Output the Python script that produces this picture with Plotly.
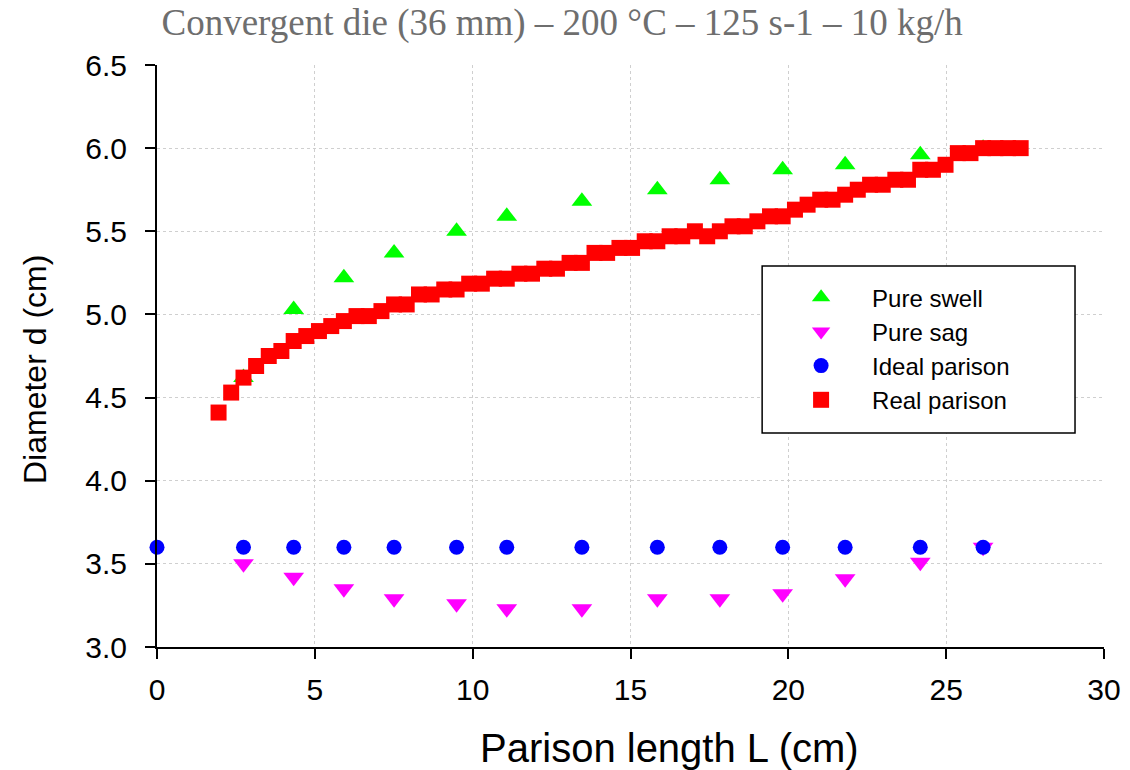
import plotly.graph_objects as go

# ---- data ----
real_L = [1.95, 2.35, 2.74, 3.14, 3.54, 3.94, 4.33, 4.73, 5.13, 5.52,
          5.92, 6.32, 6.71, 7.11, 7.51, 7.91, 8.30, 8.70, 9.10, 9.49,
          9.89, 10.29, 10.68, 11.08, 11.48, 11.88, 12.27, 12.67, 13.07, 13.46,
          13.86, 14.26, 14.65, 15.05, 15.45, 15.85, 16.24, 16.64, 17.04, 17.43,
          17.83, 18.23, 18.62, 19.02, 19.42, 19.82, 20.21, 20.61, 21.01, 21.40,
          21.80, 22.20, 22.59, 22.99, 23.39, 23.79, 24.18, 24.58, 24.98, 25.37,
          25.77, 26.17, 26.56, 26.96, 27.36]
real_d = [4.41, 4.53, 4.62, 4.69, 4.75, 4.78, 4.84, 4.87, 4.90, 4.93,
          4.96, 4.99, 4.99, 5.02, 5.06, 5.06, 5.12, 5.12, 5.15, 5.15,
          5.185, 5.185, 5.215, 5.215, 5.245, 5.245, 5.275, 5.275, 5.31, 5.31,
          5.37, 5.37, 5.40, 5.40, 5.44, 5.44, 5.47, 5.47, 5.50, 5.47,
          5.50, 5.53, 5.53, 5.56, 5.59, 5.59, 5.63, 5.66, 5.69, 5.69,
          5.72, 5.75, 5.78, 5.78, 5.81, 5.81, 5.87, 5.87, 5.90, 5.97,
          5.97, 6.00, 6.00, 6.00, 6.00]

swell_L = [2.74, 4.33, 5.92, 7.51, 9.49, 11.08, 13.46, 15.85, 17.83, 19.82, 21.80, 24.18, 26.17]
swell_d = [4.62, 5.03, 5.22, 5.37, 5.50, 5.59, 5.68, 5.75, 5.81, 5.87, 5.90, 5.96, 6.00]

sag_L = [2.74, 4.33, 5.92, 7.51, 9.49, 11.08, 13.46, 15.85, 17.83, 19.82, 21.80, 24.18, 26.17]
sag_d = [3.50, 3.42, 3.35, 3.29, 3.26, 3.23, 3.23, 3.29, 3.29, 3.32, 3.41, 3.51, 3.60]

ideal_L = [0.0, 2.74, 4.33, 5.92, 7.51, 9.49, 11.08, 13.46, 15.85, 17.83, 19.82, 21.80, 24.18, 26.17]
ideal_d = [3.60, 3.60, 3.60, 3.60, 3.60, 3.60, 3.60, 3.60, 3.60, 3.60, 3.60, 3.60, 3.60, 3.60]

x_ticks = [0, 5, 10, 15, 20, 25, 30]
y_ticks = [3.0, 3.5, 4.0, 4.5, 5.0, 5.5, 6.0, 6.5]
y_tick_text = ["3.0", "3.5", "4.0", "4.5", "5.0", "5.5", "6.0", "6.5"]

title_text = "Convergent die (36 mm) \u2013 200 \u00b0C \u2013 125 s-1 \u2013 10 kg/h"
x_title = "Parison length L (cm)"
y_title = "Diameter d (cm)"

# ---- figure ----
fig = go.Figure()
fig.add_trace(go.Scatter(x=swell_L, y=swell_d, mode="markers", name="Pure swell",
                         marker=dict(symbol="triangle-up", size=18, color="#00ff00"),
                         cliponaxis=False))
fig.add_trace(go.Scatter(x=sag_L, y=sag_d, mode="markers", name="Pure sag",
                         marker=dict(symbol="triangle-down", size=18, color="#ff00ff"),
                         cliponaxis=False))
fig.add_trace(go.Scatter(x=ideal_L, y=ideal_d, mode="markers", name="Ideal parison",
                         marker=dict(symbol="circle", size=15, color="#0000ff"),
                         cliponaxis=False))
fig.add_trace(go.Scatter(x=real_L, y=real_d, mode="markers", name="Real parison",
                         marker=dict(symbol="square", size=16, color="#ff0000"),
                         cliponaxis=False))

axis_common = dict(
    showline=True, linecolor="black", linewidth=2,
    ticks="outside", ticklen=10, tickwidth=1.5, tickcolor="black",
    showgrid=True, gridcolor="#cfcfcf", gridwidth=1, griddash="dot",
    zeroline=False, mirror=False, automargin=False,
    tickfont=dict(family="Arial", size=30, color="black"),
)

fig.update_xaxes(range=[0, 30], tickvals=x_ticks, ticklabelstandoff=5, **axis_common)
fig.update_yaxes(range=[3.0, 6.5], tickvals=y_ticks, ticktext=y_tick_text, ticklabelstandoff=12,
                 **axis_common)

fig.update_layout(
    width=1130, height=770,
    margin=dict(l=157, r=26, t=65, b=123),
    paper_bgcolor="white", plot_bgcolor="white",
    title=dict(text=title_text, x=0.4975, xanchor="center", xref="container",
               y=0.972, yanchor="middle", yref="container",
               font=dict(family="Liberation Serif, Times New Roman, serif", size=37, color="#6e6e6e")),
    legend=dict(x=0.6474, y=0.639, xanchor="left", yanchor="top",
                bgcolor="rgba(0,0,0,0)", borderwidth=0, itemwidth=92,
                font=dict(family="Arial", size=24, color="black")),
    shapes=[dict(type="rect", xref="paper", yref="paper",
                 x0=0.639, x1=0.9694, y0=0.3677, y1=0.6546,
                 line=dict(color="black", width=1.5), fillcolor="white", layer="above")],
    annotations=[
        dict(text=x_title, xref="paper", yref="paper", x=0.5417, y=-0.1735,
             xanchor="center", yanchor="middle", showarrow=False,
             font=dict(family="Arial", size=40, color="black")),
        dict(text=y_title, xref="paper", yref="paper", x=-0.1288, y=0.476,
             xanchor="center", yanchor="middle", showarrow=False, textangle=-90,
             font=dict(family="Arial", size=32, color="black")),
    ],
)

fig.write_html("out.html", config={"displayModeBar": False},
               post_script="document.body.style.margin='0';document.body.style.overflow='hidden';")
